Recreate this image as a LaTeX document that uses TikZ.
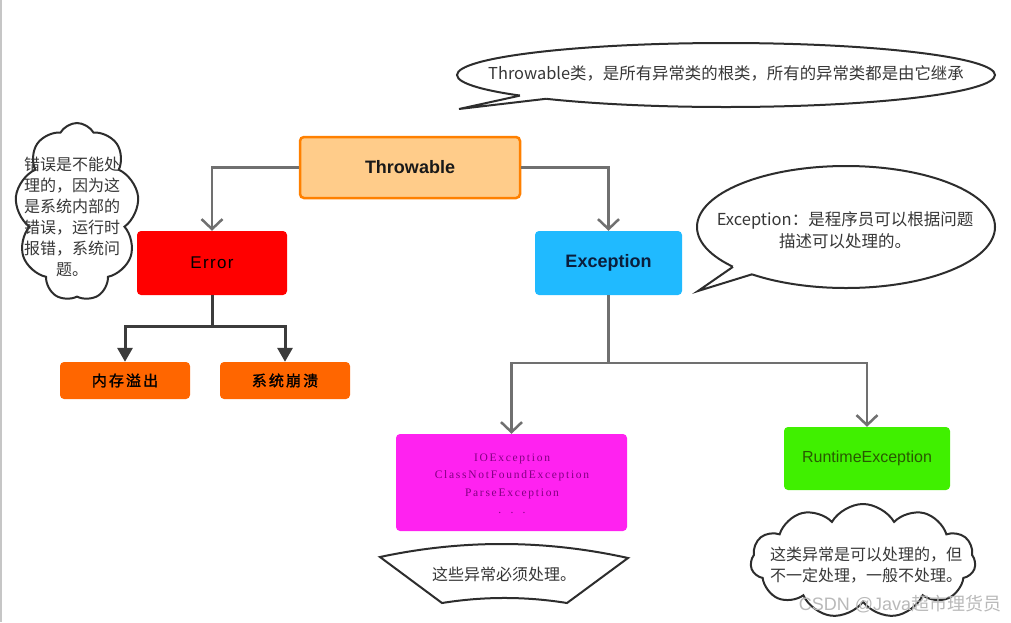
\documentclass[tikz,border=0pt]{standalone}
\usepackage{fontspec}
\setmainfont{Liberation Sans}
\newfontfamily\cjk{Noto Sans CJK SC}
\newfontfamily\cjkb[FakeBold=1.5,LetterSpace=14]{Noto Sans CJK SC}
\newfontfamily\pinkfont[LetterSpace=15]{Liberation Serif}
\newfontfamily\errfont[LetterSpace=8]{Liberation Sans}
\usetikzlibrary{arrows.meta,shapes.geometric,shapes.symbols}
\definecolor{thrfill}{RGB}{255,204,138}
\definecolor{thrdraw}{RGB}{255,128,0}
\definecolor{errred}{RGB}{255,0,0}
\definecolor{excblue}{RGB}{32,186,255}
\definecolor{orbox}{RGB}{255,102,0}
\definecolor{pinkbox}{RGB}{255,34,240}
\definecolor{greenbox}{RGB}{64,240,0}
\definecolor{conngray}{RGB}{112,112,112}
\definecolor{conndark}{RGB}{60,60,60}
\definecolor{outl}{RGB}{45,45,45}
\definecolor{txtgray}{RGB}{55,55,55}
\definecolor{pinktext}{RGB}{130,0,130}
\definecolor{rttext}{RGB}{40,90,0}
\definecolor{exctext}{RGB}{10,30,60}
\begin{document}
\begin{tikzpicture}[x=1pt,y=-1pt,
  box/.style={rectangle, rounded corners=4pt, inner sep=0pt},
  gconn/.style={draw=conngray, line width=2.5pt, -{Straight Barb[length=10pt,width=21pt]}},
  dconn/.style={draw=conndark, line width=3pt, -{Triangle[length=14pt,width=15pt]}},
  bubble/.style={ellipse, draw=outl, fill=white, line width=2pt, inner sep=0pt},
  bline/.style={draw=outl, line width=2pt, line join=miter},
  cloudst/.style={cloud, cloud ignores aspect, draw=outl, fill=white, line width=2pt, inner sep=0pt, cloud puff arc=120},
  note/.style={text=txtgray, align=center, font=\cjk\fontsize{16}{21}\selectfont, inner sep=0pt}
]
\useasboundingbox (0,0) rectangle (1011,622);
\fill[white] (0,0) rectangle (1011,622);
\draw[gray!45, line width=2pt] (1,0) -- (1,622);

% boxes
\node[box, fill=thrfill, draw=thrdraw, line width=2.5pt, minimum width=220pt, minimum height=61pt,
      font=\bfseries\fontsize{18}{21}\selectfont, text=black!90] (thr) at (410,167.5) {Throwable};
\node[box, fill=errred, minimum width=150pt, minimum height=64pt,
      font=\errfont\fontsize{17}{20}\selectfont, text=black] (err) at (212,263) {Error};
\node[box, fill=excblue, minimum width=147pt, minimum height=64pt,
      font=\bfseries\fontsize{18}{21}\selectfont, text=exctext] (exc) at (608.5,263) {Exception};
\node[box, fill=orbox, minimum width=130pt, minimum height=37pt,
      font=\cjkb\fontsize{15}{18}\selectfont, text=black] (oom) at (125,380.5) {内存溢出};
\node[box, fill=orbox, minimum width=130pt, minimum height=37pt,
      font=\cjkb\fontsize{15}{18}\selectfont, text=black] (crash) at (285,380.5) {系统崩溃};
\node[box, fill=pinkbox, minimum width=231pt, minimum height=97pt] (chk) at (511.5,482.5) {};
\node[align=center, text=pinktext, font=\pinkfont\fontsize{11.5}{17.5}\selectfont, inner sep=0pt] (chktxt) at (512,484)
  {IOException\\ClassNotFoundException\\ParseException\\.\ \ .\ \ .};
\node[box, fill=greenbox, minimum width=166pt, minimum height=63pt,
      font=\fontsize{16}{19}\selectfont, text=rttext] (rt) at (867,458.5) {RuntimeException};

% connectors
\draw[gconn] (thr.west) -| (err.north);
\draw[gconn] (thr.east) -| (exc.north);
\coordinate (ej) at (212,326);
\draw[dconn] (err.south) -- (ej) -| (oom.north);
\draw[dconn] (ej) -| (crash.north);
\coordinate (xj) at (608.5,363);
\draw[gconn] (exc.south) -- (xj) -| (chk.north);
\draw[gconn] (xj) -| (rt.north);

% top speech bubble
\node[bubble, minimum width=538pt, minimum height=64pt] (tb) at (726,75) {};
\coordinate (tbT) at (459,109);
\coordinate (tbA) at (520,95.6);
\coordinate (tbB) at (546,98.8);
\fill[white] (tbT) -- (tbA) -- (521,91) -- (547,94) -- (tbB) -- cycle;
\draw[bline] (tbA) -- (tbT) -- (tbB);
\node[note, font=\cjk\fontsize{16.4}{19}\selectfont] (tbtxt) at (726,73) {Throwable类，是所有异常类的根类，所有的异常类都是由它继承};

% exception speech bubble
\node[bubble, minimum width=298pt, minimum height=122pt] (eb) at (846,227) {};
\coordinate (ebT) at (698,291);
\coordinate (ebA) at (733,266.8);
\coordinate (ebB) at (752,274.3);
\fill[white] (ebT) -- (ebA) -- (735,262) -- (753,269) -- (ebB) -- cycle;
\draw[bline] (ebA) -- (ebT) -- (ebB);
\node[note, font=\cjk\fontsize{16.5}{22}\selectfont] (ebtxt) at (845,230) {Exception：是程序员可以根据问题\\描述可以处理的。};

% clouds
\node[cloudst, cloud puffs=9, minimum width=124pt, minimum height=178pt] (c1) at (77,212) {};
\node[note] (c1txt) at (72,217) {错误是不能处\\理的，因为这\\是系统内部的\\错误，运行时\\报错，系统问\\题。};
\node[cloudst, cloud puffs=11, minimum width=225pt, minimum height=114pt] (c2) at (863,561) {};
\node[note] (c2txt) at (866,565) {这类异常是可以处理的，但\\不一定处理，一般不处理。};

% banner
\draw[bline, fill=white] (380,557) .. controls (462.7,539.3) and (545.3,539.7) .. (628,558)
  -- (567,603) .. controls (525.3,596.3) and (483.7,596.3) .. (442,603) -- cycle;
\node[note] (bntxt) at (504,574) {这些异常必须处理。};

% watermark
\node[text=gray!55, inner sep=0pt, font=\fontsize{18}{20}\selectfont] (wm) at (900,604) {CSDN @Java{\cjk 超市理货员}};
\end{tikzpicture}
\end{document}
